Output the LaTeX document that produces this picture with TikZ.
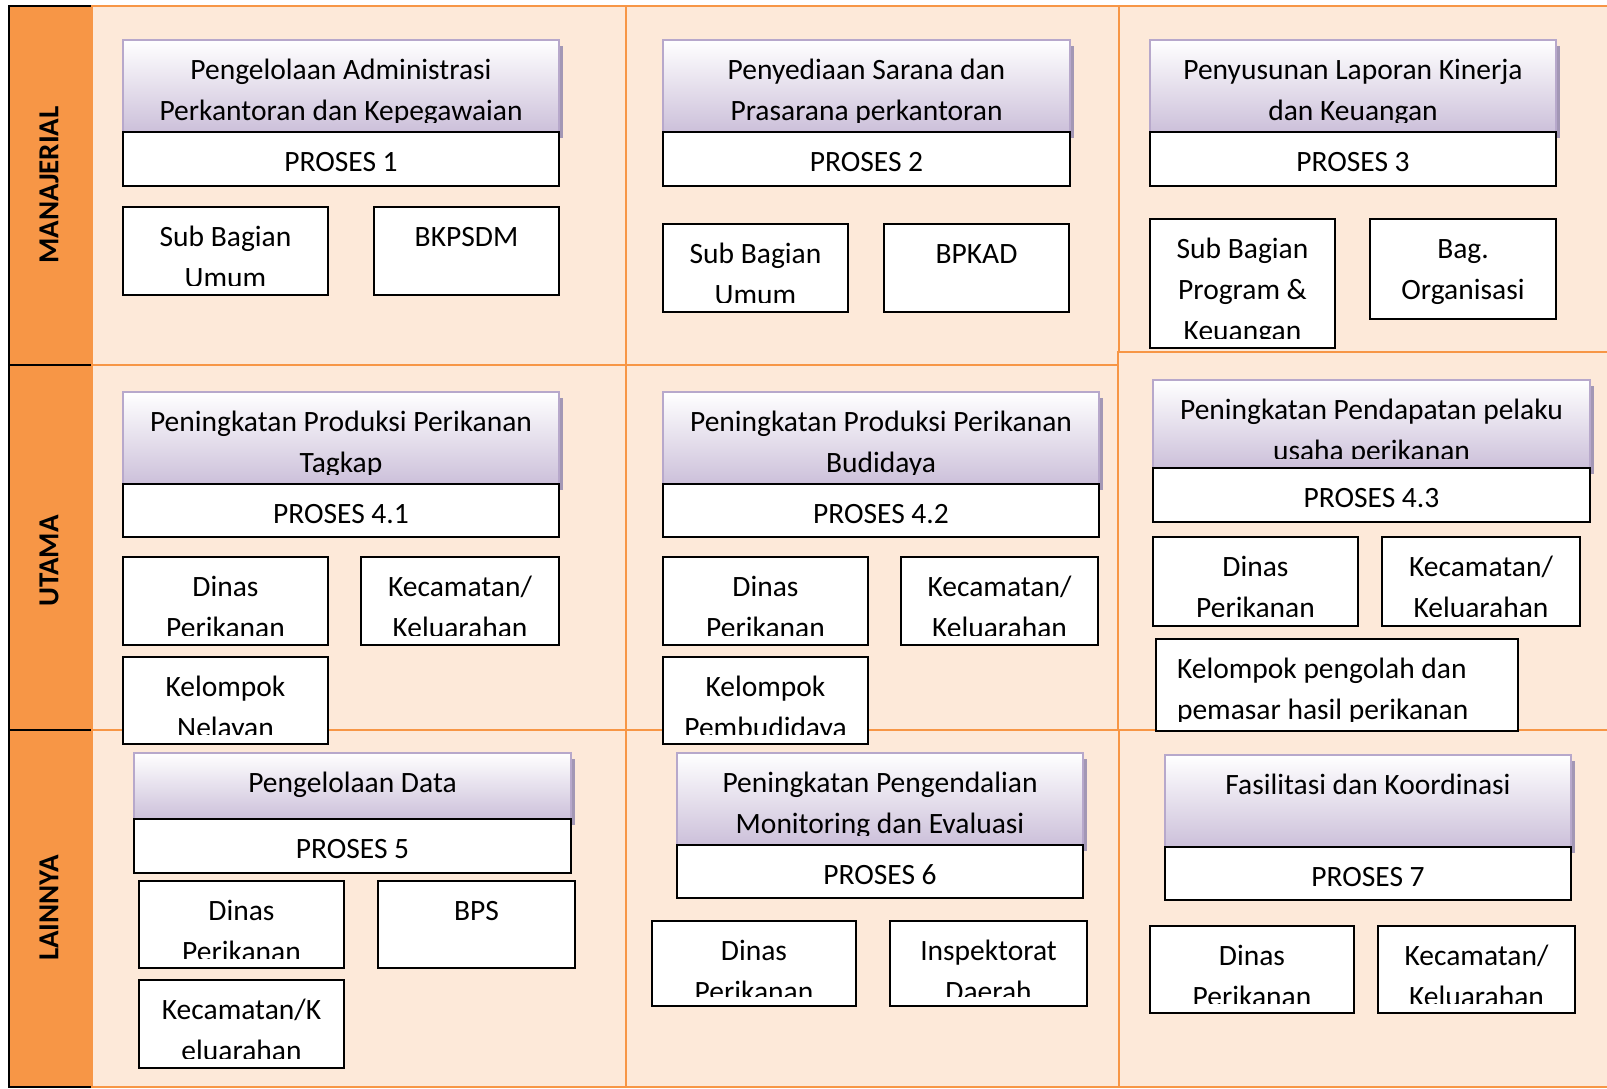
\documentclass[tikz,border=0pt]{standalone}
\usepackage{fontspec}
\setmainfont{Carlito}
\usepackage{xcolor}
\definecolor{tborange}{HTML}{F79646}
\definecolor{tbpeach}{HTML}{FDE9D9}
\definecolor{tblav}{HTML}{CCC0DA}
\definecolor{tblavline}{HTML}{B7A8CB}
\definecolor{tbshadow}{HTML}{A397B5}
\usepackage{tikz}
\usetikzlibrary{shadows}

\begin{document}
\begin{tikzpicture}[
  x=1pt, y=-1pt,
  cell/.style={draw=tborange, fill=tbpeach, line width=2pt},
  boxbase/.style={anchor=north west, inner sep=0pt, outer sep=0pt, line width=2pt},
  titlebox/.style={boxbase, draw=tblavline, top color=white, bottom color=tblav,
                   drop shadow={shadow xshift=4pt, shadow yshift=-6pt,
                                fill=tbshadow, opacity=1}},
  prosesbox/.style={boxbase, draw=black, fill=white},
  unitbox/.style={boxbase, draw=black, fill=white},
  boxsize/.style 2 args={minimum width=#1pt, minimum height=#2pt},
  txt/.style={path picture={
      \clip (path picture bounding box.north west)
        rectangle ([yshift=10pt]path picture bounding box.south east);
      \node[anchor=north, align=center, inner sep=0pt, minimum width=0pt,
            minimum height=0pt, font=\fontsize{29.5}{41}\selectfont]
        at ([yshift=-14pt]path picture bounding box.north) {\rule{0pt}{25pt}#1};}},
  txtleft/.style={path picture={
      \clip (path picture bounding box.north west)
        rectangle ([yshift=10pt]path picture bounding box.south east);
      \node[anchor=north west, align=left, inner sep=0pt, minimum width=0pt,
            minimum height=0pt, font=\fontsize{29.5}{41}\selectfont]
        at ([xshift=21pt, yshift=-14pt]path picture bounding box.north west) {\rule{0pt}{25pt}#1};}},
  rowlabel/.style={rotate=90, font=\fontsize{29}{35}\selectfont\bfseries}
]
  \useasboundingbox (0,0) rectangle (1607,1088);

  % table cells
  \foreach \y/\yy in {6/365, 365/730, 730/1087}
    \foreach \x/\xx in {92/626, 626/1119, 1119/1612}
      \draw[cell] (\x,\y) rectangle (\xx,\yy);
  \draw[cell] (1118,352) rectangle (1612,730);

  % label column
  \fill[tborange] (9,6) rectangle (91,1087);
  \draw[line width=2pt] (9,5) -- (9,1088);
  \foreach \y in {6, 365, 730, 1087}
    \draw[line width=2pt] (8,\y) -- (91,\y);
  \node[rowlabel] (manajerial) at (49,185) {MANAJERIAL};
  \node[rowlabel] (utama) at (49,561) {UTAMA};
  \node[rowlabel] (lainnya) at (49,908) {LAINNYA};

  % manajerial
  \node[titlebox, boxsize={436}{92}, txt={Pengelolaan Administrasi\\Perkantoran dan Kepegawaian}] (judul1) at (123,40) {};
  \node[prosesbox, boxsize={436}{54}, txt={PROSES 1}] (proses1) at (123,132) {};
  \node[unitbox, boxsize={205}{88}, txt={Sub Bagian\\Umum}] (umum1) at (123,207) {};
  \node[unitbox, boxsize={185}{88}, txt={BKPSDM}] (bkpsdm) at (374,207) {};

  \node[titlebox, boxsize={407}{92}, txt={Penyediaan Sarana dan\\Prasarana perkantoran}] (judul2) at (663,40) {};
  \node[prosesbox, boxsize={407}{54}, txt={PROSES 2}] (proses2) at (663,132) {};
  \node[unitbox, boxsize={185}{88}, txt={Sub Bagian\\Umum}] (umum2) at (663,224) {};
  \node[unitbox, boxsize={185}{88}, txt={BPKAD}] (bpkad) at (884,224) {};

  \node[titlebox, boxsize={406}{92}, txt={Penyusunan Laporan Kinerja\\dan Keuangan}] (judul3) at (1150,40) {};
  \node[prosesbox, boxsize={406}{54}, txt={PROSES 3}] (proses3) at (1150,132) {};
  \node[unitbox, boxsize={185}{129}, txt={Sub Bagian\\Program \&\\Keuangan}] (program) at (1150,219) {};
  \node[unitbox, boxsize={186}{100}, txt={Bag.\\Organisasi}] (organisasi) at (1370,219) {};

  % utama
  \node[titlebox, boxsize={436}{92}, txt={Peningkatan Produksi Perikanan\\Tagkap}] (judul41) at (123,392) {};
  \node[prosesbox, boxsize={436}{53}, txt={PROSES 4.1}] (proses41) at (123,484) {};
  \node[unitbox, boxsize={205}{88}, txt={Dinas\\Perikanan}] (dinas41) at (123,557) {};
  \node[unitbox, boxsize={198}{88}, txt={Kecamatan/\\Keluarahan}] (kec41) at (361,557) {};
  \node[unitbox, boxsize={205}{87}, txt={Kelompok\\Nelayan}] (nelayan) at (123,657) {};

  \node[titlebox, boxsize={436}{92}, txt={Peningkatan Produksi Perikanan\\Budidaya}] (judul42) at (663,392) {};
  \node[prosesbox, boxsize={436}{53}, txt={PROSES 4.2}] (proses42) at (663,484) {};
  \node[unitbox, boxsize={205}{88}, txt={Dinas\\Perikanan}] (dinas42) at (663,557) {};
  \node[unitbox, boxsize={197}{88}, txt={Kecamatan/\\Keluarahan}] (kec42) at (901,557) {};
  \node[unitbox, boxsize={205}{87}, txt={Kelompok\\Pembudidaya}] (pembudidaya) at (663,657) {};

  \node[titlebox, boxsize={437}{88}, txt={Peningkatan Pendapatan pelaku\\usaha perikanan}] (judul43) at (1153,380) {};
  \node[prosesbox, boxsize={437}{54}, txt={PROSES 4.3}] (proses43) at (1153,468) {};
  \node[unitbox, boxsize={205}{89}, txt={Dinas\\Perikanan}] (dinas43) at (1153,537) {};
  \node[unitbox, boxsize={198}{89}, txt={Kecamatan/\\Keluarahan}] (kec43) at (1382,537) {};
  \node[unitbox, boxsize={362}{92}, txtleft={Kelompok pengolah dan\\pemasar hasil perikanan}] (pengolah) at (1156,639) {};

  % lainnya
  \node[titlebox, boxsize={437}{66}, txt={Pengelolaan Data}] (judul5) at (134,753) {};
  \node[prosesbox, boxsize={437}{54}, txt={PROSES 5}] (proses5) at (134,819) {};
  \node[unitbox, boxsize={205}{87}, txt={Dinas\\Perikanan}] (dinas5) at (139,881) {};
  \node[unitbox, boxsize={197}{87}, txt={BPS}] (bps) at (378,881) {};
  \node[unitbox, boxsize={205}{88}, txt={Kecamatan/K\\eluarahan}] (kec5) at (139,980) {};

  \node[titlebox, boxsize={406}{92}, txt={Peningkatan Pengendalian\\Monitoring dan Evaluasi}] (judul6) at (677,753) {};
  \node[prosesbox, boxsize={406}{53}, txt={PROSES 6}] (proses6) at (677,845) {};
  \node[unitbox, boxsize={204}{85}, txt={Dinas\\Perikanan}] (dinas6) at (652,921) {};
  \node[unitbox, boxsize={197}{85}, txt={Inspektorat\\Daerah}] (inspektorat) at (890,921) {};

  \node[titlebox, boxsize={406}{92}, txt={Fasilitasi dan Koordinasi}] (judul7) at (1165,755) {};
  \node[prosesbox, boxsize={406}{53}, txt={PROSES 7}] (proses7) at (1165,847) {};
  \node[unitbox, boxsize={204}{87}, txt={Dinas\\Perikanan}] (dinas7) at (1150,926) {};
  \node[unitbox, boxsize={197}{87}, txt={Kecamatan/\\Keluarahan}] (kec7) at (1378,926) {};
\end{tikzpicture}
\end{document}
